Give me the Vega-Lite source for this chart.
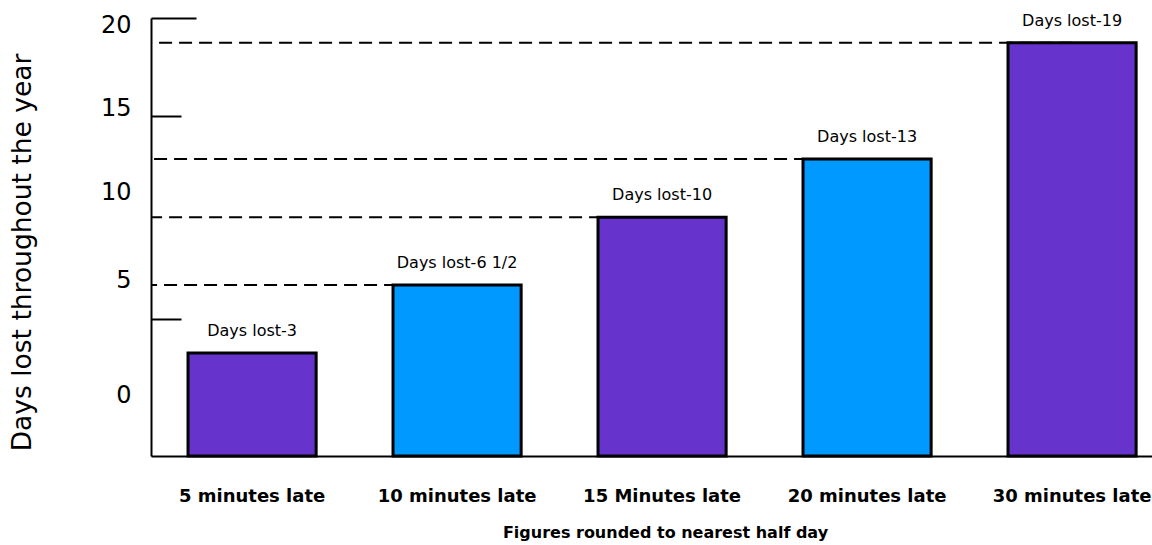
{
  "$schema": "https://vega.github.io/schema/vega-lite/v6.json",
  "width": 1001,
  "height": 438,
  "autosize": "none",
  "padding": {"left": 151, "top": 18, "right": 0, "bottom": 89},
  "background": "white",
  "config": {"view": {"stroke": null}, "font": "DejaVu Sans"},
  "data": {
    "values": [
      {"period": "5 minutes late", "days": 3, "label": "Days lost-3"},
      {"period": "10 minutes late", "days": 6.5, "label": "Days lost-6 1/2"},
      {"period": "15 Minutes late", "days": 10, "label": "Days lost-10"},
      {"period": "20 minutes late", "days": 13, "label": "Days lost-13"},
      {"period": "30 minutes late", "days": 19, "label": "Days lost-19"}
    ]
  },
  "layer": [
    {
      "transform": [{"filter": "datum.days > 3"}],
      "mark": {"type": "rule", "strokeDash": [13, 7], "strokeWidth": 2, "color": "black"},
      "encoding": {
        "x": {"field": "period", "type": "nominal", "sort": ["5 minutes late", "10 minutes late", "15 Minutes late", "20 minutes late", "30 minutes late"]},
        "x2": {"value": 0},
        "y": {"field": "days", "type": "quantitative"}
      }
    },
    {
      "mark": {"type": "bar", "stroke": "black", "strokeWidth": 3},
      "encoding": {
        "x": {
          "field": "period",
          "type": "nominal",
          "sort": ["5 minutes late", "10 minutes late", "15 Minutes late", "20 minutes late", "30 minutes late"],
          "scale": {"paddingInner": 0.375, "paddingOuter": 0.129, "align": 0.7},
          "title": "Figures rounded to nearest half day",
          "axis": {
            "labelAngle": 0,
            "labelAlign": "center",
            "labelFontSize": 18,
            "labelFontWeight": "bold",
            "labelColor": "black",
            "ticks": false,
            "tickSize": 0,
            "labelPadding": 40,
            "domainColor": "black",
            "domainWidth": 2,
            "titleFontSize": 16,
            "titleFontWeight": "bold",
            "titleColor": "black",
            "titlePadding": 19,
            "titleX": 514
          }
        },
        "y": {
          "field": "days",
          "type": "quantitative",
          "scale": {"domain": [-2.31, 20.27], "zero": false, "nice": false},
          "title": "Days lost throughout the year",
          "axis": {
            "values": [0.83, 6.76, 11.25, 15.6, 19.9, 4.75, 15.2, 20.27],
            "labelExpr": "(datum.value == 4.75 || datum.value == 15.2 || datum.value == 20.27) ? '' : format(round(datum.value / 5) * 5, 'd')",
            "tickSize": {"condition": [{"test": "datum.value == 20.27", "value": -45}, {"test": "datum.value == 4.75 || datum.value == 15.2", "value": -30}], "value": 0},
            "tickColor": "black",
            "tickWidth": 2,
            "domainColor": "black",
            "domainWidth": 2,
            "grid": false,
            "labelOverlap": false,
            "labelFontSize": 24,
            "labelColor": "black",
            "labelPadding": 20,
            "titleFontSize": 26.5,
            "titleFontWeight": "normal",
            "titleColor": "black",
            "titlePadding": 64,
            "titleY": 234
          }
        },
        "y2": {"datum": -2.31},
        "color": {
          "field": "period",
          "type": "nominal",
          "scale": {
            "domain": ["5 minutes late", "10 minutes late", "15 Minutes late", "20 minutes late", "30 minutes late"],
            "range": ["#6633CC", "#0099FF", "#6633CC", "#0099FF", "#6633CC"]
          },
          "legend": null
        }
      }
    },
    {
      "mark": {"type": "text", "fontSize": 16, "color": "black", "baseline": "middle", "dy": -22},
      "encoding": {
        "x": {"field": "period", "type": "nominal", "sort": ["5 minutes late", "10 minutes late", "15 Minutes late", "20 minutes late", "30 minutes late"]},
        "y": {"field": "days", "type": "quantitative"},
        "text": {"field": "label"}
      }
    }
  ]
}
